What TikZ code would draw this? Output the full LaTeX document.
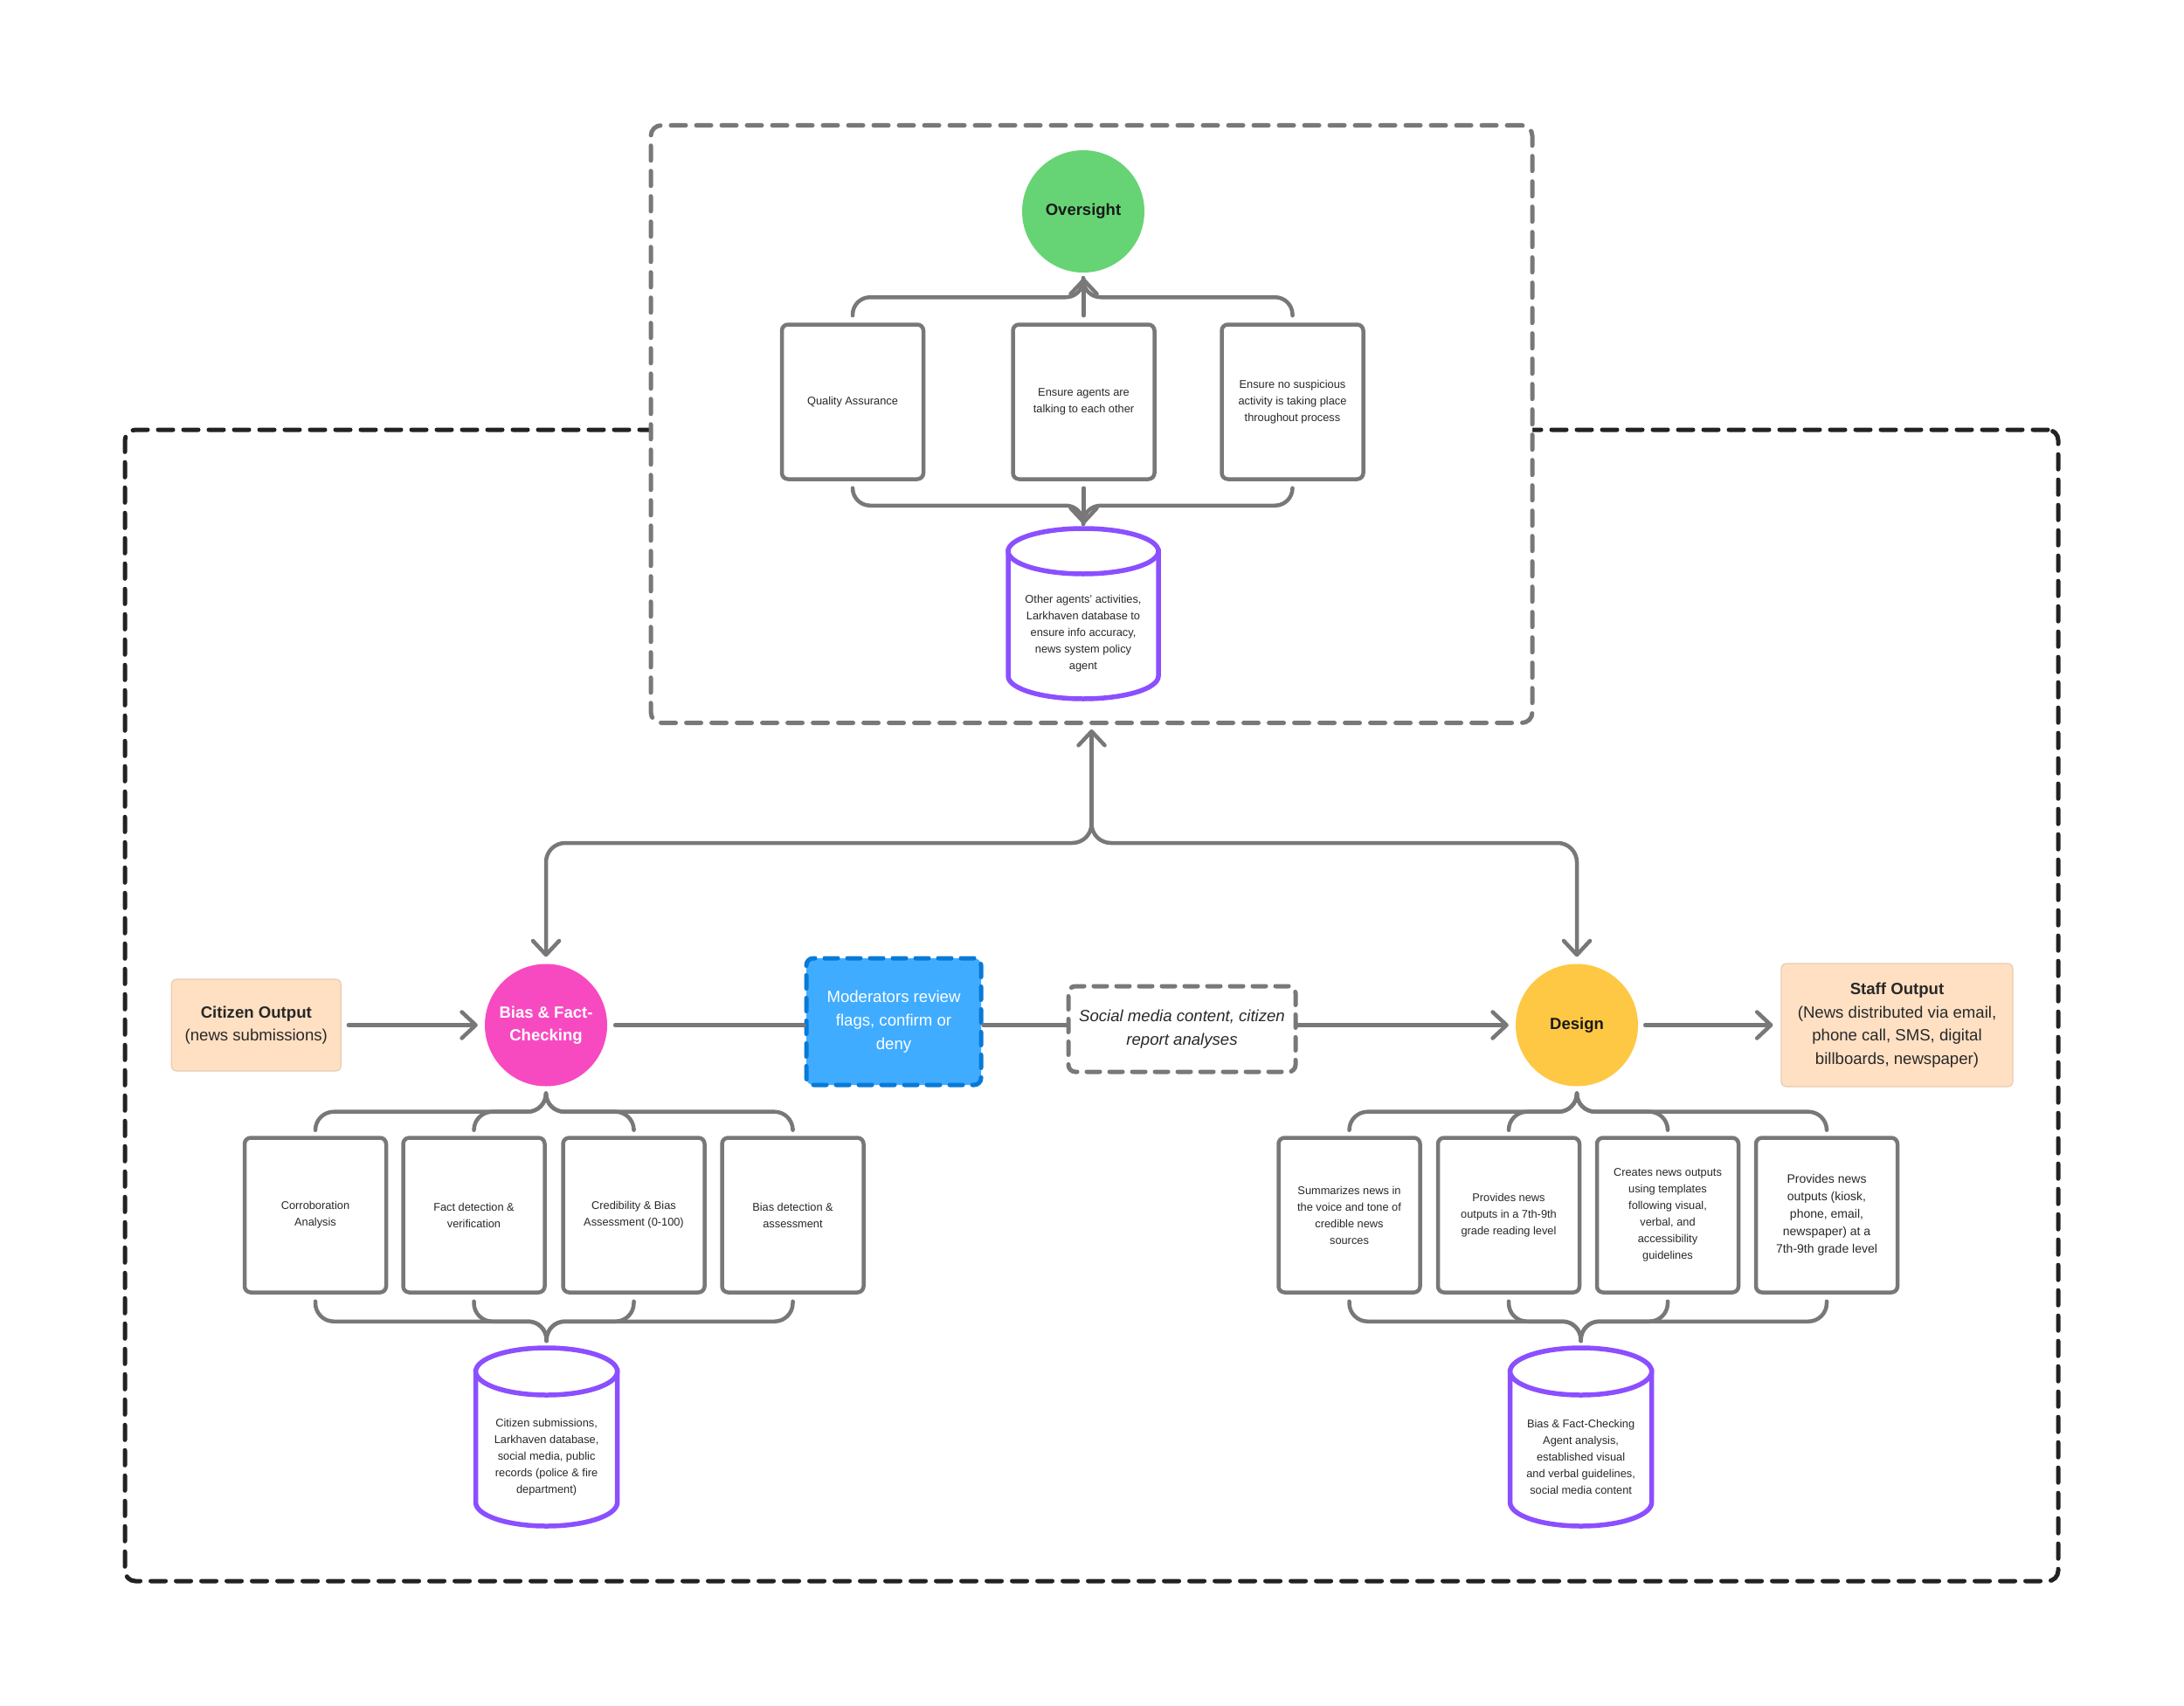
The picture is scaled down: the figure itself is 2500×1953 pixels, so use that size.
\documentclass[tikz,border=0pt]{standalone}
\usepackage{fontspec}
\setmainfont{Liberation Sans}
\usetikzlibrary{arrows.meta}
\definecolor{lgray}{RGB}{120,120,120}
\definecolor{dkline}{RGB}{34,34,34}
\definecolor{txt}{RGB}{40,40,40}
\definecolor{purp}{RGB}{139,79,255}
\definecolor{ovgreen}{RGB}{102,212,117}
\definecolor{biaspink}{RGB}{247,74,193}
\definecolor{desyellow}{RGB}{254,200,68}
\definecolor{modblue}{RGB}{64,172,255}
\definecolor{modborder}{RGB}{8,122,214}
\definecolor{peach}{RGB}{255,224,195}
\definecolor{peachborder}{RGB}{232,204,176}
\newcommand\dbcyl[5]{%
  \filldraw[cylstyle] (#1-#4,#2+#5) -- (#1-#4,#3-#5) arc[start angle=180,end angle=360,x radius=#4pt,y radius=#5pt] -- (#1+#4,#2+#5) -- cycle;
  \filldraw[cylstyle] (#1,#2+#5) ellipse[x radius=#4pt,y radius=#5pt];
}
\begin{document}
\begin{tikzpicture}[x=1pt,y=-1pt,
  conn/.style={draw=lgray, line width=4.5pt, line cap=round, line join=round},
  arr/.style={conn, -{Straight Barb[length=16pt,width=30pt,round]}},
  box/.style={draw=lgray, line width=4.5pt, rounded corners=7pt, fill=white, minimum width=162pt, minimum height=177pt, align=center, text=txt, font=\fontsize{12.8pt}{19pt}\selectfont, inner sep=3pt},
  bigbox/.style={box, font=\fontsize{14pt}{20pt}\selectfont},
  circ/.style={circle, minimum size=140pt, inner sep=0pt, align=center, font=\bfseries\fontsize{18.5pt}{26pt}\selectfont},
  peachbox/.style={fill=peach, draw=peachborder, line width=1.2pt, rounded corners=6pt, align=center, text=txt, font=\fontsize{18.6pt}{26.5pt}\selectfont, inner sep=0pt},
  cylstyle/.style={draw=purp, line width=5.5pt, fill=white},
  dbtext/.style={align=center, text=txt, font=\fontsize{12.8pt}{19pt}\selectfont, inner sep=0pt},
  bigdash/.style={dash pattern=on 17pt off 12pt, line cap=round, line width=5pt},
  modbox/.style={fill=modblue, draw=modborder, line width=5pt, dash pattern=on 15pt off 11pt, line cap=round, rounded corners=8pt, minimum width=200pt, minimum height=145pt, text=white, align=center, font=\fontsize{18.6pt}{27pt}\selectfont},
  socbox/.style={fill=white, draw=lgray, line width=5pt, dash pattern=on 15pt off 11pt, line cap=round, rounded corners=8pt, minimum width=260pt, minimum height=98pt, text=txt, align=center, font=\itshape\fontsize{18.6pt}{27pt}\selectfont, inner sep=2pt}
]
\fill[white] (0,0) rectangle (2500,1953);
\useasboundingbox (0,0) rectangle (2500,1953);

% frames
\node[draw=dkline, bigdash, rounded corners=12pt, minimum width=2213pt, minimum height=1318pt, inner sep=0pt] (outer) at (1249.5,1151) {};
\node[draw=lgray, bigdash, fill=white, rounded corners=12pt, minimum width=1009pt, minimum height=684pt, inner sep=0pt] (ovbox) at (1249.5,485.5) {};

% oversight group
\node[circ, fill=ovgreen, text=black!90] (ov) at (1240,242) {Oversight};
\node[box] (t1) at (976,460) {Quality Assurance};
\node[box] (t2) at (1240.5,460) {Ensure agents are\\talking to each other};
\node[box] (t3) at (1479.5,460) {Ensure no suspicious\\activity is taking place\\throughout process};
\foreach \n in {t1,t3} \draw[conn, rounded corners=20pt] ([yshift=8pt]\n.north) -- ++(0,-21) -| ([yshift=-6pt]ov.south);
\draw[arr, shorten <=8pt, shorten >=6pt] (t2.north) -- (t2.north |- ov.south);
\coordinate (ovdb) at (1240,605);
\dbcyl{1240}{605}{800}{86}{26}
\node[dbtext] (db1) at (1240,725) {Other agents’ activities,\\Larkhaven database to\\ensure info accuracy,\\news system policy\\agent};
\foreach \n in {t1,t3} \draw[conn, rounded corners=20pt] ([yshift=-8pt]\n.south) -- ++(0,20) -| ([yshift=5pt]ovdb);
\draw[arr, shorten <=8pt, shorten >=5pt] (t2.south) -- (t2.south |- ovdb);

% middle row
\node[peachbox, minimum width=194pt, minimum height=105pt] (cit) at (293.3,1173.5) {\textbf{Citizen Output}\\(news submissions)};
\node[circ, fill=biaspink, text=white] (bias) at (625,1173.5) {Bias \& Fact-\\Checking};
\node[modbox] (mod) at (1023,1169.5) {Moderators review\\flags, confirm or\\deny};
\node[socbox] (soc) at (1353,1178) {Social media content, citizen\\report analyses};
\node[circ, fill=desyellow, text=black!90] (design) at (1805,1173.5) {Design};
\node[peachbox, minimum width=265pt, minimum height=141pt] (staff) at (2171.5,1173.5) {\textbf{Staff Output}\\(News distributed via email,\\phone call, SMS, digital\\billboards, newspaper)};

\draw[arr, shorten <=8pt, shorten >=8pt] (cit.east) -- (bias.west);
\draw[conn, shorten <=9pt] (bias.east) -- (mod.west |- bias.east);
\draw[conn] (mod.east |- bias.east) -- (soc.west |- bias.east);
\draw[arr, shorten >=8pt] (soc.east |- design.west) -- (design.west);
\draw[arr, shorten <=8pt, shorten >=9pt] (design.east) -- (staff.west);

% hub connector
\coordinate (hub) at (1249.5,943);
\draw[arr, shorten >=5pt] (hub) -- (ovbox.south);
\draw[arr, rounded corners=22pt] (hub) -- ++(0,22) -| ([yshift=8pt]bias.north);
\draw[arr, rounded corners=22pt] (hub) -- ++(0,22) -| ([yshift=8pt]design.north);

% bias group
\node[box] (b1) at (361,1391) {Corroboration\\Analysis};
\node[box] (b2) at (542.5,1391) {Fact detection \&\\verification};
\node[box] (b3) at (725.5,1391) {Credibility \& Bias\\Assessment (0-100)};
\node[box] (b4) at (907.5,1391) {Bias detection \&\\assessment};
\foreach \n in {b1,b2,b3,b4} \draw[conn, rounded corners=21pt] ([yshift=-8pt]bias.south) -- ++(0,21) -| ([yshift=8pt]\n.north);
\coordinate (bdb) at (625.6,1543);
\dbcyl{625.6}{1543}{1747}{81}{27}
\node[dbtext] (db2) at (625.6,1668) {Citizen submissions,\\Larkhaven database,\\social media, public\\records (police \& fire\\department)};
\foreach \n in {b1,b2,b3,b4} \draw[conn, rounded corners=21pt] ([yshift=-8pt]\n.south) -- ++(0,23) -| ([yshift=8pt]bdb);

% design group
\node[box] (d1) at (1544.5,1391) {Summarizes news in\\the voice and tone of\\credible news\\sources};
\node[box] (d2) at (1727,1391) {Provides news\\outputs in a 7th-9th\\grade reading level};
\node[box] (d3) at (1909,1391) {Creates news outputs\\using templates\\following visual,\\verbal, and\\accessibility\\guidelines};
\node[bigbox] (d4) at (2091,1391) {Provides news\\outputs (kiosk,\\phone, email,\\newspaper) at a\\7th-9th grade level};
\foreach \n in {d1,d2,d3,d4} \draw[conn, rounded corners=21pt] ([yshift=-8pt]design.south) -- ++(0,21) -| ([yshift=8pt]\n.north);
\coordinate (ddb) at (1809.6,1543);
\dbcyl{1809.6}{1543}{1747}{81}{27}
\node[dbtext] (db3) at (1809.6,1668) {Bias \& Fact-Checking\\Agent analysis,\\established visual\\and verbal guidelines,\\social media content};
\foreach \n in {d1,d2,d3,d4} \draw[conn, rounded corners=21pt] ([yshift=-8pt]\n.south) -- ++(0,23) -| ([yshift=8pt]ddb);
\end{tikzpicture}
\end{document}
